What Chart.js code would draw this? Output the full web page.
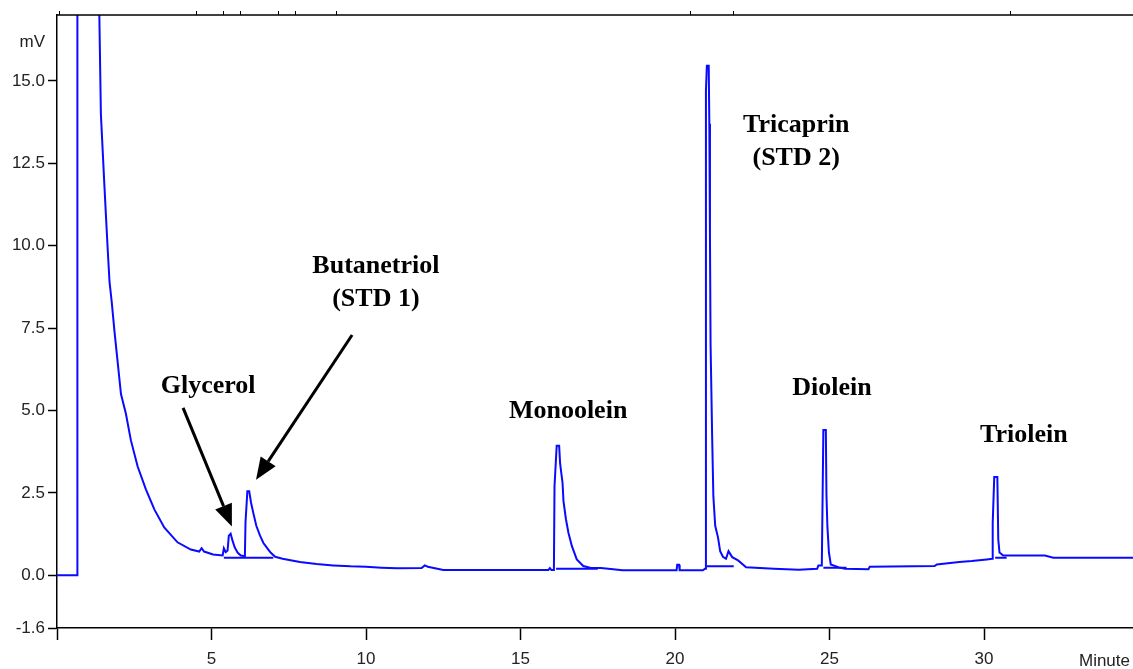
<!DOCTYPE html>
<html>
<head>
<meta charset="utf-8">
<script src="https://cdn.jsdelivr.net/npm/chart.js@4/dist/chart.umd.min.js"></script>
<style>
  body { margin: 0; background: #fff; }
  #wrap { width: 1133px; height: 669px; position: relative; }
</style>
</head>
<body>
<div id="wrap"><canvas id="chrom"></canvas></div>
<script>
// chromatogram trace (minutes, mV)
const timeMin = [0, 0.65, 0.66, 1.34, 1.37, 1.42, 1.53, 1.59, 1.64, 1.70, 1.77, 1.86, 1.96, 2.07, 2.23, 2.39, 2.61, 2.88, 3.15, 3.47, 3.90, 4.33, 4.60, 4.68, 4.76, 5.05, 5.36, 5.40, 5.46, 5.52, 5.56, 5.62, 5.68, 5.75, 5.85, 5.95, 6.08, 6.10, 6.16, 6.22, 6.28, 6.35, 6.45, 6.57, 6.68, 6.79, 6.92, 7.06, 7.30, 7.60, 7.86, 8.40, 8.94, 9.50, 10.0, 10.5, 11.0, 11.8, 11.9, 12.0, 12.5, 15.9, 15.95, 16.0, 16.08, 16.10, 16.17, 16.25, 16.28, 16.36, 16.39, 16.47, 16.55, 16.66, 16.82, 17.03, 17.25, 17.6, 18.0, 18.3, 20.05, 20.07, 20.13, 20.15, 20.9, 20.97, 21.0, 21.03, 21.09, 21.11, 21.13, 21.15, 21.2, 21.24, 21.3, 21.39, 21.46, 21.55, 21.65, 21.73, 21.85, 22.04, 22.3, 23.2, 24.0, 24.6, 24.64, 24.75, 24.8, 24.88, 24.9, 24.93, 24.98, 25.04, 25.3, 25.5, 26.26, 26.3, 28.4, 28.47, 29.2, 29.6, 30.09, 30.26, 30.28, 30.33, 30.43, 30.46, 30.5, 30.62, 31.97, 32.24, 34.82];
const signalMv = [0, 0, 40, 40, 17, 14.0, 11.9, 10.8, 9.9, 8.9, 8.3, 7.4, 6.5, 5.5, 4.9, 4.1, 3.3, 2.6, 2.0, 1.45, 1.0, 0.78, 0.72, 0.82, 0.72, 0.63, 0.6, 0.82, 0.7, 0.75, 1.2, 1.26, 1.05, 0.85, 0.68, 0.6, 0.58, 1.6, 2.55, 2.55, 2.2, 1.9, 1.5, 1.2, 0.98, 0.84, 0.68, 0.56, 0.5, 0.45, 0.4, 0.34, 0.3, 0.27, 0.26, 0.23, 0.21, 0.22, 0.3, 0.26, 0.16, 0.16, 0.22, 0.16, 0.16, 2.7, 3.93, 3.93, 3.4, 2.8, 2.25, 1.7, 1.29, 0.89, 0.48, 0.28, 0.23, 0.22, 0.18, 0.15, 0.15, 0.32, 0.32, 0.15, 0.15, 0.2, 14.7, 15.46, 15.46, 13.7, 10.3, 7.0, 4.26, 2.4, 1.5, 1.15, 0.73, 0.56, 0.5, 0.73, 0.55, 0.45, 0.24, 0.2, 0.17, 0.2, 0.3, 0.3, 4.41, 4.41, 2.45, 1.49, 0.69, 0.33, 0.24, 0.2, 0.18, 0.26, 0.28, 0.33, 0.4, 0.43, 0.48, 0.5, 1.59, 2.98, 2.98, 1.09, 0.69, 0.6, 0.6, 0.53, 0.53];

// integration baselines under the peaks (null = gap)
const baseTime = [5.40, 7.00, 7.01, 16.15, 17.5, 17.51, 21.02, 21.9, 21.91, 24.8, 25.55, 25.56, 30.36, 30.73];
const baseMv = [0.53, 0.53, null, 0.2, 0.2, null, 0.27, 0.27, null, 0.23, 0.23, null, 0.53, 0.53];

const xTickValues = [0, 5, 10, 15, 20, 25, 30];
const yTickValues = [-1.6, 0, 2.5, 5, 7.5, 10, 12.5, 15];
const eventMarks = [0.06, 4.5, 5.37, 5.92, 7.15, 7.7, 9.03, 20.49, 21.88, 30.84];

const peakLabels = [["Glycerol"], ["Butanetriol", "(STD 1)"], ["Monoolein"], ["Tricaprin", "(STD 2)"], ["Diolein"], ["Triolein"]];
const peakLabelX = [4.89, 10.32, 16.54, 23.92, 25.08, 31.29];
const peakLabelY = [5.53, 9.16, 4.78, 13.46, 5.47, 4.05];
const arrowFrom = [[4.08, 5.08], [9.55, 7.29]];
const arrowTo = [[5.66, 1.48], [6.44, 2.9]];

const extras = {
  id: "extras",
  afterDatasetsDraw(chart) {
    const ctx = chart.ctx;
    const xs = chart.scales.x, ys = chart.scales.y;
    const area = chart.chartArea;
    ctx.save();
    // top frame line with event marks
    ctx.strokeStyle = "#000";
    ctx.lineWidth = 1.5;
    ctx.beginPath();
    ctx.moveTo(area.left, area.top);
    ctx.lineTo(area.right, area.top);
    ctx.stroke();
    ctx.lineWidth = 1;
    eventMarks.forEach((t) => {
      const px = Math.round(xs.getPixelForValue(t)) + 0.5;
      ctx.beginPath();
      ctx.moveTo(px, area.top);
      ctx.lineTo(px, area.top - 4);
      ctx.stroke();
    });

    // axis unit texts
    ctx.fillStyle = "#222";
    ctx.font = "17px 'Liberation Sans', Arial, sans-serif";
    ctx.textAlign = "right";
    ctx.textBaseline = "middle";
    ctx.fillText("mV", 45, 42);
    ctx.fillText("Minute", 1130, 661);

    // peak names
    ctx.fillStyle = "#000";
    ctx.font = "bold 26px 'Liberation Serif', 'Times New Roman', serif";
    ctx.textAlign = "center";
    ctx.textBaseline = "alphabetic";
    peakLabels.forEach((lines, i) => {
      const px = xs.getPixelForValue(peakLabelX[i]);
      const py = ys.getPixelForValue(peakLabelY[i]);
      lines.forEach((txt, j) => ctx.fillText(txt, px, py + j * 33));
    });

    // arrows
    ctx.strokeStyle = "#000";
    ctx.lineWidth = 3;
    arrowFrom.forEach((a, i) => {
      const x1 = xs.getPixelForValue(a[0]), y1 = ys.getPixelForValue(a[1]);
      const x2 = xs.getPixelForValue(arrowTo[i][0]), y2 = ys.getPixelForValue(arrowTo[i][1]);
      const ang = Math.atan2(y2 - y1, x2 - x1);
      const len = 22, half = 9;
      const bx = x2 - len * Math.cos(ang), by = y2 - len * Math.sin(ang);
      ctx.beginPath();
      ctx.moveTo(x1, y1);
      ctx.lineTo(bx, by);
      ctx.stroke();
      ctx.beginPath();
      ctx.moveTo(x2, y2);
      ctx.lineTo(bx + half * Math.sin(ang), by - half * Math.cos(ang));
      ctx.lineTo(bx - half * Math.sin(ang), by + half * Math.cos(ang));
      ctx.closePath();
      ctx.fill();
    });
    ctx.restore();
  }
};

const ctx = document.getElementById("chrom");
new Chart(ctx, {
  type: "line",
  data: {
    datasets: [
      {
        label: "signal",
        data: timeMin.map((t, i) => ({ x: t, y: signalMv[i] })),
        borderColor: "rgb(10, 10, 255)",
        borderWidth: 2,
        pointRadius: 0,
        tension: 0
      },
      {
        label: "baseline",
        data: baseTime.map((t, i) => ({ x: t, y: baseMv[i] })),
        borderColor: "rgb(10, 10, 255)",
        borderWidth: 2,
        pointRadius: 0,
        spanGaps: false,
        tension: 0
      }
    ]
  },
  options: {
    responsive: true,
    maintainAspectRatio: false,
    animation: false,
    layout: { padding: { top: 15, right: 0, left: 0, bottom: 0 } },
    plugins: { legend: { display: false }, tooltip: { enabled: false } },
    scales: {
      x: {
        type: "linear",
        min: 0,
        max: 34.82,
        afterBuildTicks: (scale) => { scale.ticks = xTickValues.map((v) => ({ value: v })); },
        afterFit: (scale) => { scale.height = 41; },
        ticks: {
          color: "#222",
          font: { family: "'Liberation Sans', Arial, sans-serif", size: 17 },
          padding: 9,
          maxRotation: 0,
          callback: (v) => (v === 0 ? "" : String(v))
        },
        grid: { drawOnChartArea: false, drawTicks: true, tickLength: 12, color: "#000", tickWidth: 1.5 },
        border: { display: true, color: "#000", width: 1.5 }
      },
      y: {
        type: "linear",
        min: -1.6,
        max: 17,
        afterBuildTicks: (scale) => { scale.ticks = yTickValues.map((v) => ({ value: v })); },
        afterFit: (scale) => { scale.width = 57; },
        ticks: {
          color: "#222",
          font: { family: "'Liberation Sans', Arial, sans-serif", size: 17 },
          padding: 3,
          callback: (v) => Number(v).toFixed(1)
        },
        grid: { drawOnChartArea: false, drawTicks: true, tickLength: 9, color: "#000", tickWidth: 1.5 },
        border: { display: true, color: "#000", width: 1.5 }
      }
    }
  },
  plugins: [extras]
});
</script>
</body>
</html>
